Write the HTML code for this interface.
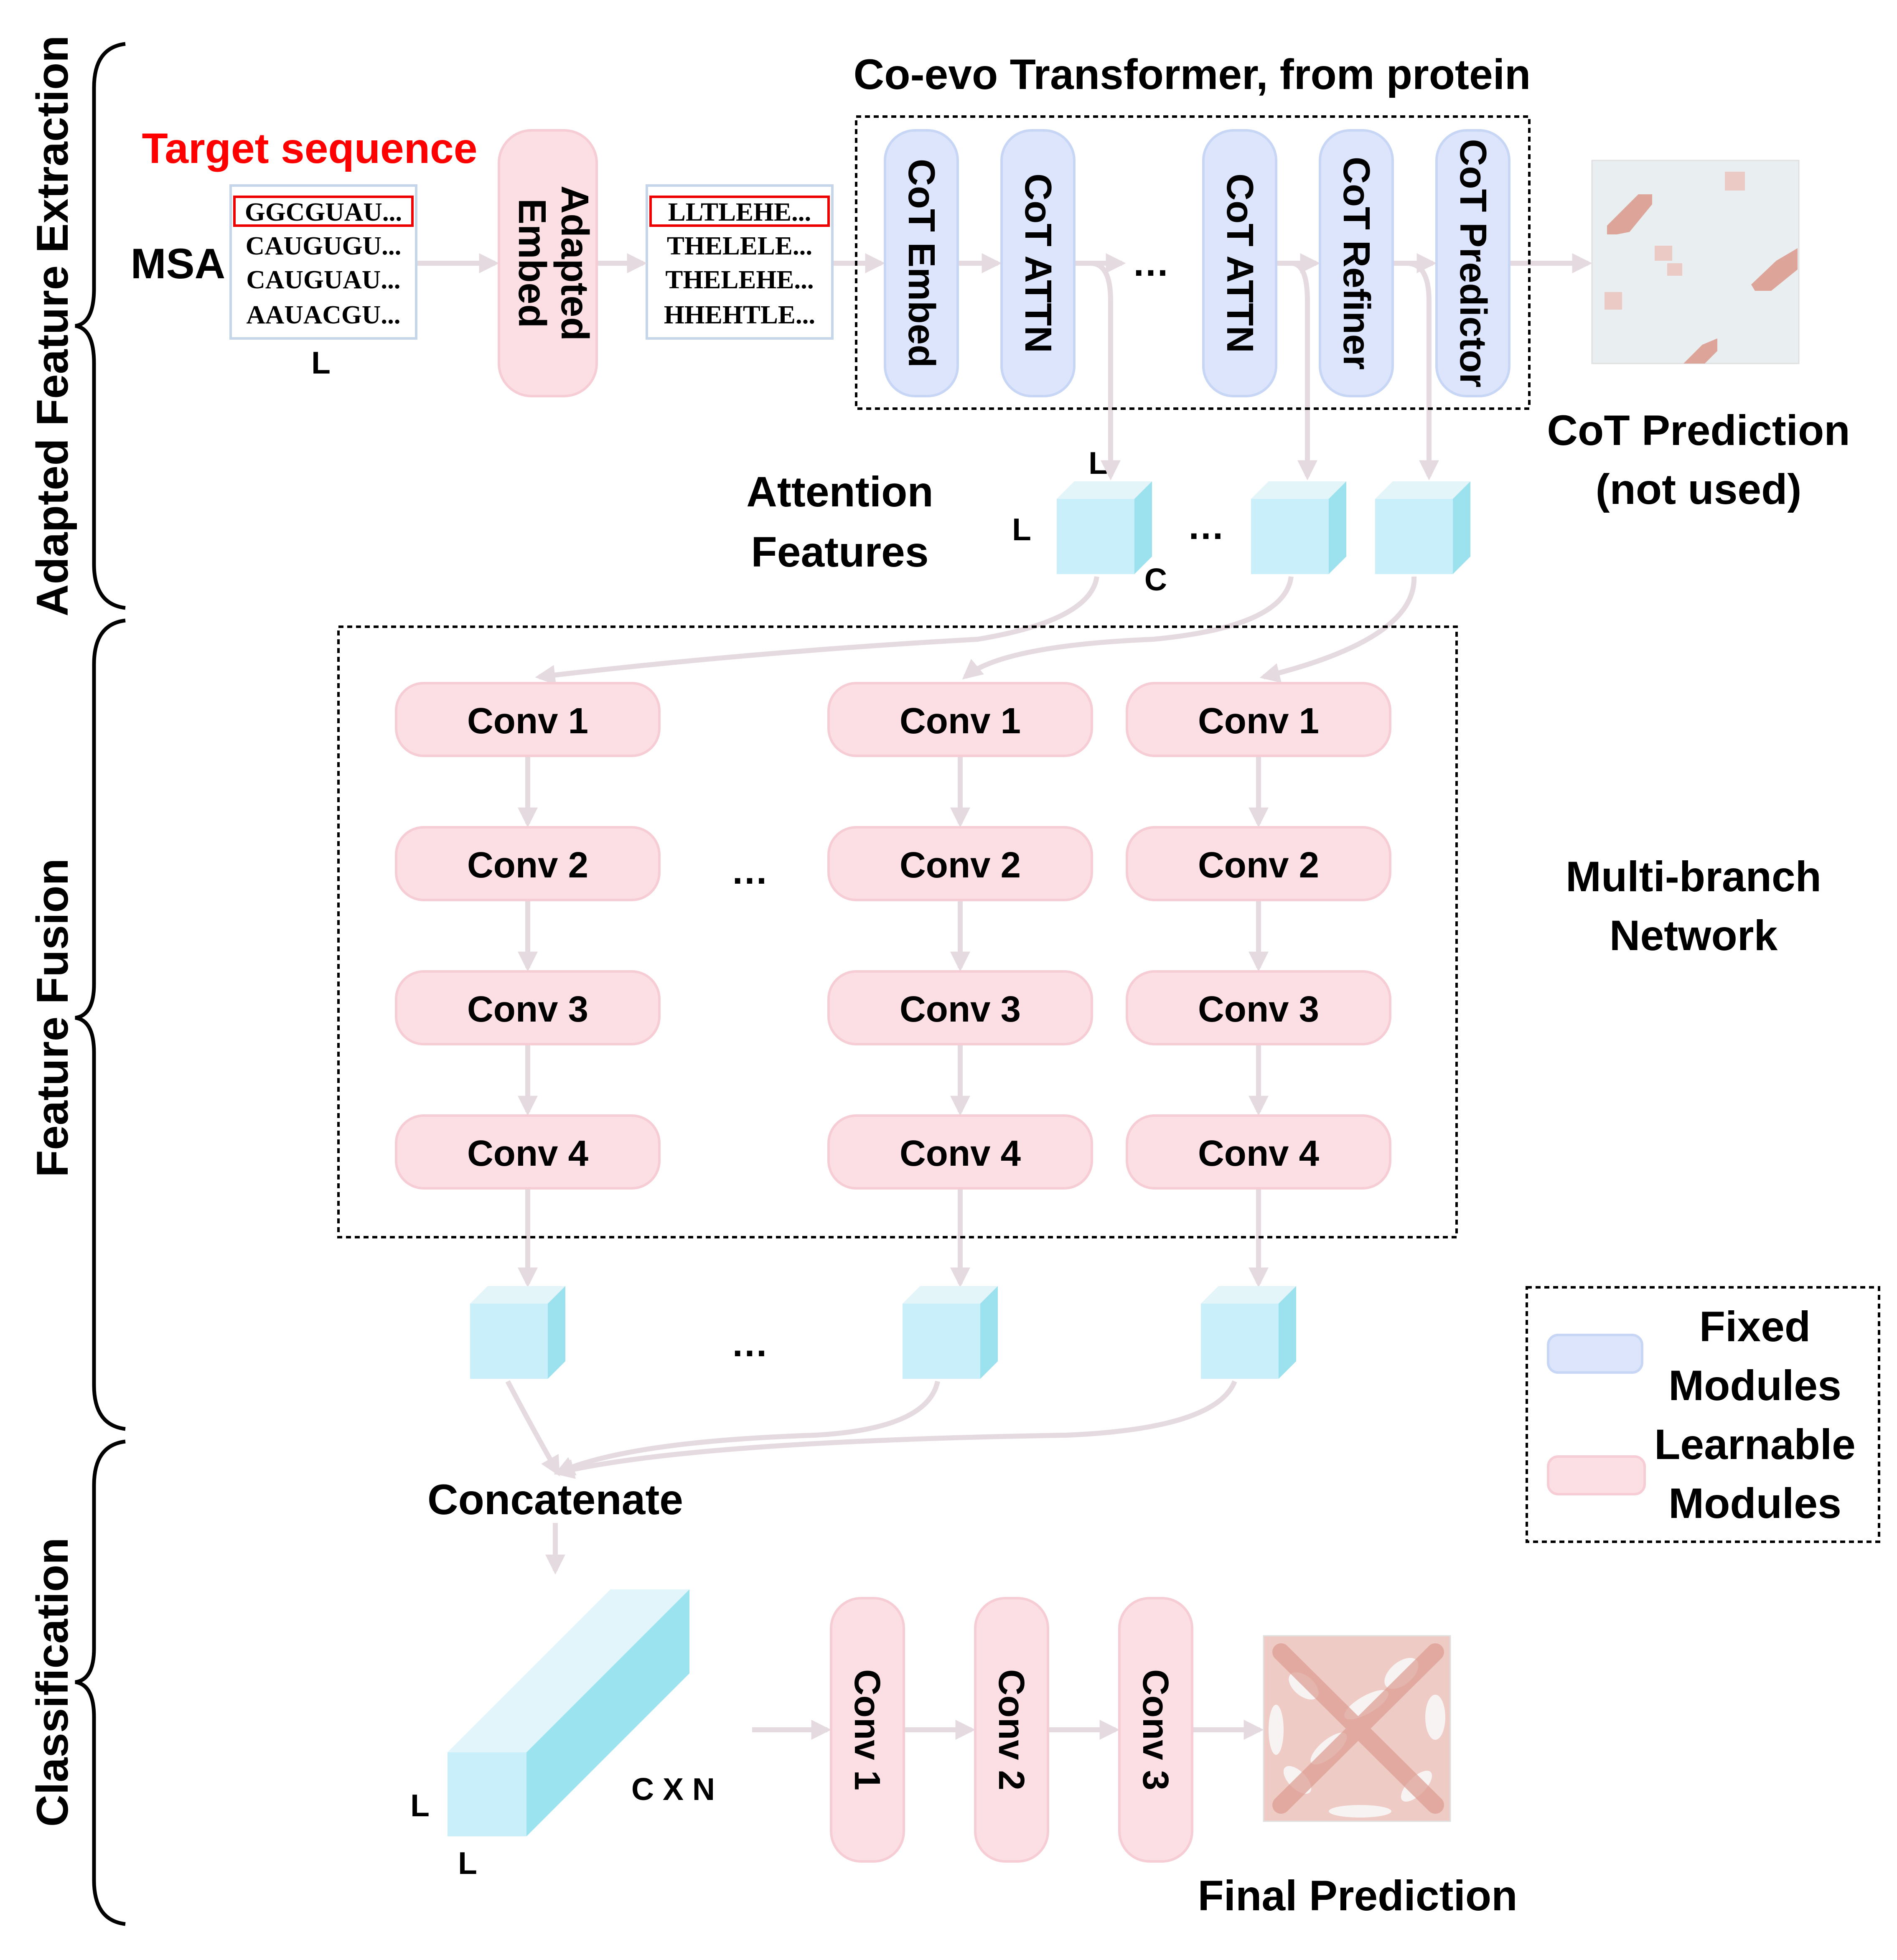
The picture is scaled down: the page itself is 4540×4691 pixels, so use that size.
<!DOCTYPE html>
<html><head><meta charset="utf-8"><style>html,body{margin:0;padding:0;background:#fff}svg{display:block}</style></head>
<body>
<svg xmlns="http://www.w3.org/2000/svg" width="4540" height="4691" viewBox="0 0 1513.33 1563.67" font-family="'Liberation Sans', sans-serif" font-weight="bold">
<defs>
<marker id="a" viewBox="0 0 10 10" refX="8" refY="5" markerWidth="4" markerHeight="4" orient="auto"><path d="M0,0L10,5L0,10z" fill="#e4dae0"/></marker>
</defs>
<rect width="100%" height="100%" fill="#fff"/>
<g fill="none" stroke="#000" stroke-width="3">
<path d="M100,35 Q75,38 75,70 L75,230 Q75,258 60,260 Q75,262 75,290 L75,450 Q75,482 100,485"/>
<path d="M100,495 Q75,498 75,530 L75,785 Q75,810 60,812 Q75,814 75,840 L75,1105 Q75,1137 100,1140"/>
<path d="M100,1150 Q75,1153 75,1185 L75,1315 Q75,1340 60,1342 Q75,1344 75,1370 L75,1500 Q75,1532 100,1535"/>
</g>
<g font-size="35.5" text-anchor="middle">
<text transform="translate(54,260) rotate(-90)">Adapted Feature Extraction</text>
<text transform="translate(54,812) rotate(-90)">Feature Fusion</text>
<text transform="translate(54,1342) rotate(-90)">Classification</text>
</g>
<g font-size="34" text-anchor="middle">
<text x="951" y="71">Co-evo Transformer, from protein</text>
<text x="247" y="130" fill="#f00">Target sequence</text>
<text x="142" y="222">MSA</text>
<text x="1355" y="355">CoT Prediction</text>
<text x="1355" y="402">(not used)</text>
<text x="670" y="404">Attention</text>
<text x="670" y="452">Features</text>
<text x="1351" y="711">Multi-branch</text>
<text x="1351" y="758">Network</text>
<text x="443" y="1208">Concatenate</text>
<text x="1083" y="1524">Final Prediction</text>
<text x="1400" y="1070">Fixed</text>
<text x="1400" y="1117">Modules</text>
<text x="1400" y="1164">Learnable</text>
<text x="1400" y="1211">Modules</text>
</g>
<g font-size="25" text-anchor="middle">
<text x="256" y="298">L</text><text x="876" y="378">L</text><text x="815" y="431">L</text><text x="922" y="471">C</text>
<text x="335" y="1449">L</text><text x="373" y="1495">L</text><text x="537" y="1436">C X N</text>
</g>
<g font-size="30" text-anchor="middle"><text x="918" y="220">…</text><text x="962" y="430">…</text><text x="598" y="705">…</text><text x="598" y="1082">…</text></g>
<rect x="184" y="148" width="148" height="122" fill="#fff" stroke="#c6d6ea" stroke-width="2"/>
<rect x="187" y="157" width="142" height="23" fill="none" stroke="#e00" stroke-width="2"/>
<g font-family="'Liberation Serif', serif" font-size="21" text-anchor="middle">
<text x="258" y="176">GGCGUAU...</text><text x="258" y="203">CAUGUGU...</text><text x="258" y="230">CAUGUAU...</text><text x="258" y="258">AAUACGU...</text>
</g>
<rect x="516" y="148" width="148" height="122" fill="#fff" stroke="#c6d6ea" stroke-width="2"/>
<rect x="519" y="157" width="142" height="23" fill="none" stroke="#e00" stroke-width="2"/>
<g font-family="'Liberation Serif', serif" font-size="21" text-anchor="middle">
<text x="590" y="176">LLTLEHE...</text><text x="590" y="203">THELELE...</text><text x="590" y="230">THELEHE...</text><text x="590" y="258">HHEHTLE...</text>
</g>
<g stroke="#e4dae0" stroke-width="4" fill="none" marker-end="url(#a)">
<line x1="333" y1="210" x2="395" y2="210"/><line x1="477" y1="210" x2="513" y2="210"/><line x1="665" y1="210" x2="703" y2="210"/>
<line x1="765" y1="210" x2="796" y2="210"/><line x1="858" y1="210" x2="895" y2="210"/>
<line x1="1019" y1="210" x2="1050" y2="210"/><line x1="1112" y1="210" x2="1143" y2="210"/><line x1="1205" y1="210" x2="1267" y2="210"/>
<path d="M870,210 Q886,210 886,240 L886,380"/>
<path d="M1030,210 Q1043,210 1043,240 L1043,380"/>
<path d="M1122,210 Q1140,210 1140,240 L1140,380"/>
<path d="M875,460 Q870,495 780,510 Q600,520 430,540"/>
<path d="M1030,460 Q1025,500 920,510 Q800,515 770,540"/>
<path d="M1128,460 Q1130,510 1008,540"/>
<line x1="421" y1="604" x2="421" y2="657"/><line x1="421" y1="719" x2="421" y2="772"/><line x1="421" y1="834" x2="421" y2="887"/><line x1="421" y1="949" x2="421" y2="1024"/>
<line x1="766" y1="604" x2="766" y2="657"/><line x1="766" y1="719" x2="766" y2="772"/><line x1="766" y1="834" x2="766" y2="887"/><line x1="766" y1="949" x2="766" y2="1024"/>
<line x1="1004" y1="604" x2="1004" y2="657"/><line x1="1004" y1="719" x2="1004" y2="772"/><line x1="1004" y1="834" x2="1004" y2="887"/><line x1="1004" y1="949" x2="1004" y2="1024"/>
<path d="M405,1102 Q425,1140 445,1175"/>
<path d="M748,1102 Q740,1140 650,1145 Q500,1150 445,1175"/>
<path d="M985,1102 Q970,1140 850,1145 Q550,1150 445,1175"/>
<line x1="443" y1="1215" x2="443" y2="1253"/>
<line x1="600" y1="1380" x2="660" y2="1380"/><line x1="722" y1="1380" x2="775" y2="1380"/><line x1="837" y1="1380" x2="890" y2="1380"/><line x1="952" y1="1380" x2="1005" y2="1380"/>
</g>
<rect x="398" y="104" width="78" height="212" rx="26" fill="#fbdfe4" stroke="#f7cdd5" stroke-width="2"/>
<g font-size="31" text-anchor="middle"><text transform="translate(448,210) rotate(90)">Adapted</text><text transform="translate(414,210) rotate(90)">Embed</text></g>
<rect x="683" y="93" width="537" height="233" fill="none" stroke="#000" stroke-width="2" stroke-dasharray="4,3"/>
<g fill="#dce5fb" stroke="#c8d6f6" stroke-width="2">
<rect x="706" y="104" width="58" height="212" rx="24"/><rect x="799" y="104" width="58" height="212" rx="24"/><rect x="960" y="104" width="58" height="212" rx="24"/><rect x="1053" y="104" width="58" height="212" rx="24"/><rect x="1146" y="104" width="58" height="212" rx="24"/>
</g>
<g font-size="30" text-anchor="middle">
<text transform="translate(725,210) rotate(90)">CoT Embed</text><text transform="translate(818,210) rotate(90)">CoT ATTN</text><text transform="translate(979,210) rotate(90)">CoT ATTN</text><text transform="translate(1072,210) rotate(90)">CoT Refiner</text><text transform="translate(1165,210) rotate(90)">CoT Predictor</text>
</g>
<!-- heatmap 1 -->
<rect x="1270" y="128" width="165" height="162" fill="#e9eef1" stroke="#e0e0e0"/>
<g fill="#d99184" opacity="0.8">
<polygon points="1282,180 1307,155 1318,155 1318,163 1300,185 1290,187 1282,187"/>
<polygon points="1397,227 1417,208 1434,198 1434,215 1413,232 1400,232"/>
<polygon points="1343,290 1358,275 1370,270 1370,280 1360,290"/>
</g>
<g fill="#ebcac6"><rect x="1376" y="137" width="16" height="15"/><rect x="1320" y="196" width="14" height="12"/><rect x="1280" y="233" width="14" height="14"/><rect x="1330" y="210" width="12" height="10"/></g>
<g>
<g id="c1"><polygon points="843,398 857,384 919,384 905,398" fill="#e4f5fa"/><polygon points="905,398 919,384 919,444 905,458" fill="#9be1ee"/><rect x="843" y="398" width="62" height="60" fill="#c9effa"/></g>
<use href="#c1" x="155"/><use href="#c1" x="254"/>
<use href="#c1" x="-468" y="642"/><use href="#c1" x="-123" y="642"/><use href="#c1" x="115" y="642"/>
</g>
<rect x="270" y="500" width="892" height="487" fill="none" stroke="#000" stroke-width="2" stroke-dasharray="4,3"/>
<g fill="#fbdfe4" stroke="#f7cdd5" stroke-width="2">
<rect x="316" y="545" width="210" height="58" rx="22"/><rect x="661" y="545" width="210" height="58" rx="22"/><rect x="899" y="545" width="210" height="58" rx="22"/>
<rect x="316" y="660" width="210" height="58" rx="22"/><rect x="661" y="660" width="210" height="58" rx="22"/><rect x="899" y="660" width="210" height="58" rx="22"/>
<rect x="316" y="775" width="210" height="58" rx="22"/><rect x="661" y="775" width="210" height="58" rx="22"/><rect x="899" y="775" width="210" height="58" rx="22"/>
<rect x="316" y="890" width="210" height="58" rx="22"/><rect x="661" y="890" width="210" height="58" rx="22"/><rect x="899" y="890" width="210" height="58" rx="22"/>
<rect x="663" y="1275" width="58" height="210" rx="24"/><rect x="778" y="1275" width="58" height="210" rx="24"/><rect x="893" y="1275" width="58" height="210" rx="24"/>
</g>
<g font-size="29" text-anchor="middle">
<text x="421" y="585">Conv 1</text><text x="766" y="585">Conv 1</text><text x="1004" y="585">Conv 1</text>
<text x="421" y="700">Conv 2</text><text x="766" y="700">Conv 2</text><text x="1004" y="700">Conv 2</text>
<text x="421" y="815">Conv 3</text><text x="766" y="815">Conv 3</text><text x="1004" y="815">Conv 3</text>
<text x="421" y="930">Conv 4</text><text x="766" y="930">Conv 4</text><text x="1004" y="930">Conv 4</text>
<text transform="translate(682,1380) rotate(90)">Conv 1</text><text transform="translate(797,1380) rotate(90)">Conv 2</text><text transform="translate(912,1380) rotate(90)">Conv 3</text>
</g>
<polygon points="357,1398 487,1268 550,1268 420,1398" fill="#e2f5fa"/>
<polygon points="420,1398 550,1268 550,1335 420,1465" fill="#9be3ee"/>
<rect x="357" y="1398" width="63" height="67" fill="#c9effa"/>
<!-- heatmap 2 -->
<rect x="1008" y="1305" width="149" height="148" fill="#eecbc4" stroke="#e0e0e0"/>
<g fill="#f7f3f3">
<ellipse cx="1040" cy="1345" rx="14" ry="8" transform="rotate(40 1040 1345)"/>
<ellipse cx="1118" cy="1335" rx="16" ry="9" transform="rotate(-40 1118 1335)"/>
<ellipse cx="1090" cy="1360" rx="20" ry="7" transform="rotate(-30 1090 1360)"/>
<ellipse cx="1060" cy="1395" rx="18" ry="7" transform="rotate(-40 1060 1395)"/>
<ellipse cx="1035" cy="1420" rx="14" ry="7" transform="rotate(45 1035 1420)"/>
<ellipse cx="1130" cy="1425" rx="16" ry="7" transform="rotate(-45 1130 1425)"/>
<ellipse cx="1145" cy="1370" rx="8" ry="18"/>
<ellipse cx="1018" cy="1380" rx="6" ry="20"/>
<ellipse cx="1085" cy="1445" rx="25" ry="5"/>
</g>
<g stroke="#dc9c90" stroke-width="14" opacity="0.7" stroke-linecap="round">
<line x1="1022" y1="1318" x2="1145" y2="1440"/><line x1="1145" y1="1318" x2="1022" y2="1440"/>
</g>
<rect x="1235" y="1065" width="0" height="0"/>
<rect x="1218" y="1027" width="281" height="203" fill="none" stroke="#000" stroke-width="2" stroke-dasharray="4,3"/>
<rect x="1235" y="1065" width="75" height="30" rx="8" fill="#dce5fb" stroke="#c8d6f6" stroke-width="2"/>
<rect x="1235" y="1162" width="77" height="30" rx="8" fill="#fbdfe4" stroke="#f7cdd5" stroke-width="2"/>
</svg>
</body></html>
